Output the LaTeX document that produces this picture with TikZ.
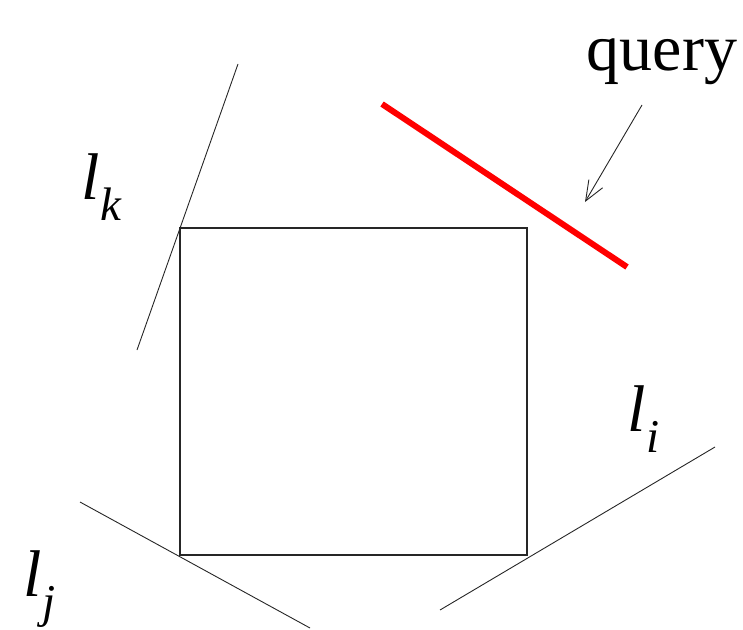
\documentclass[tikz,border=0pt]{standalone}
\usepackage{fontspec}
\setmainfont{Liberation Serif}
\usetikzlibrary{arrows.meta}
\tikzset{
  thinline/.style={line width=0.9pt, black!85},
  box/.style={line width=2.8pt, black!85},
  querybar/.style={line width=6pt, red},
  lab/.style={inner sep=0pt, font=\fontsize{66}{66}\selectfont},
}
\newcommand{\lsub}[1]{\textit{l}\kern1pt\raisebox{-0.32em}{\fontsize{47}{47}\selectfont\itshape #1}}
\begin{document}
\begin{tikzpicture}[x=1pt,y=-1pt]
\useasboundingbox (0,0) rectangle (743,629);
% square
\coordinate (tl) at (180,228);
\coordinate (br) at (527,555);
\draw[box] (tl) rectangle (br);
% support lines
\coordinate (k1) at (238,64);
\coordinate (k2) at (137,350);
\draw[thinline] (k1) -- (k2);
\coordinate (j1) at (80,502);
\coordinate (j2) at (310,628);
\draw[thinline] (j1) -- (j2);
\coordinate (i1) at (440,610);
\coordinate (i2) at (715,447);
\draw[thinline] (i1) -- (i2);
% query segment
\coordinate (q1) at (382,104);
\coordinate (q2) at (627,267);
\draw[querybar] (q1) -- (q2);
% labels
\node[lab, anchor=base] (query) at (662,70) {query};
\coordinate (a1) at (642,105);
\coordinate (a2) at (585,202);
\draw[thinline, -{Straight Barb[length=20pt,width=16pt]}] (a1) -- (a2);
\node[lab, anchor=base west] (lk) at (81,199) {\lsub{k}};
\node[lab, anchor=base west] (li) at (627,431) {\lsub{i}};
\node[lab, anchor=base west] (lj) at (23,596) {\lsub{j}};
\end{tikzpicture}
\end{document}
